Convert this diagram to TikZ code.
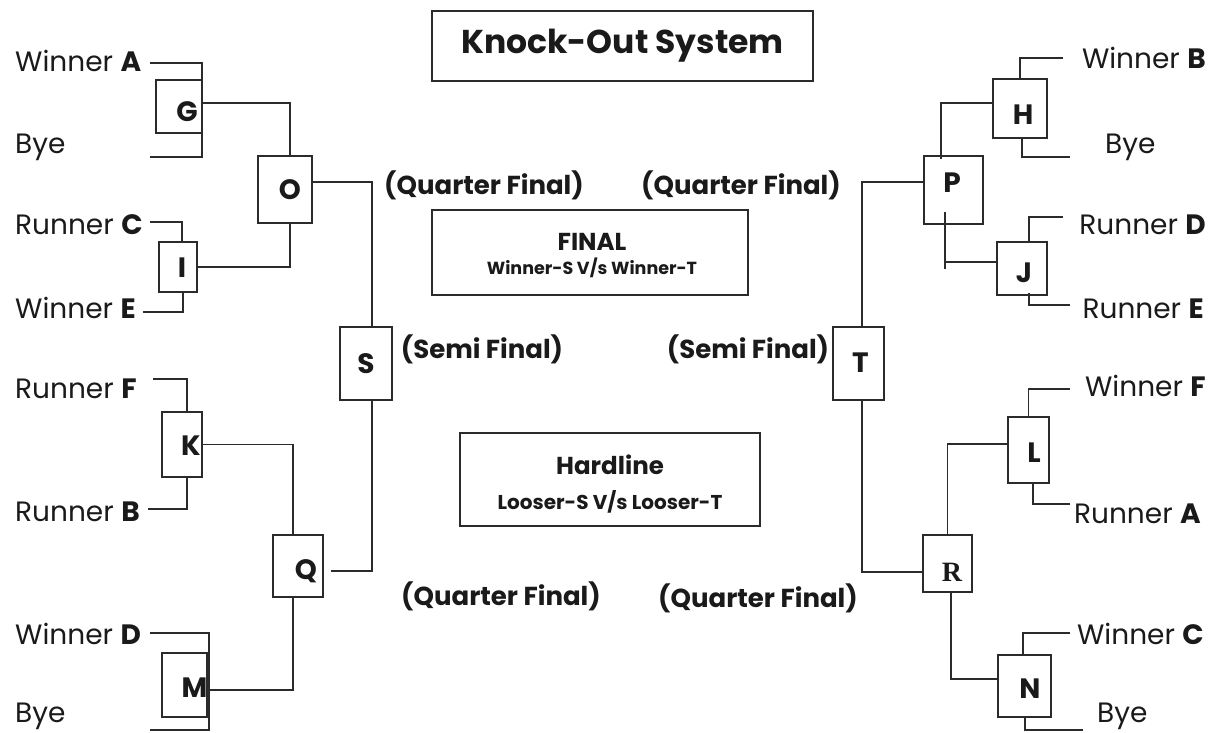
\documentclass[tikz,border=0pt]{standalone}
\usepackage{fontspec}
\setmainfont{Poppins}
\newfontfamily\serifR{Liberation Serif}
\definecolor{linec}{HTML}{2B2B2B}
\definecolor{textc}{HTML}{1A1A1A}
\begin{document}
\begin{tikzpicture}[x=1pt,y=-1pt,
  mbox/.style={draw=linec, line width=1.5pt, inner sep=0pt},
  boxlab/.style={inner sep=0pt, text=textc, font=\fontsize{28}{28}\selectfont\bfseries},
  conn/.style={draw=linec, line width=1.5pt},
  lbl/.style={inner sep=0pt, text=textc, font=\fontsize{28}{28}\selectfont},
  stage/.style={inner sep=0pt, text=textc, font=\fontsize{26}{26}\selectfont\bfseries},
  infobox/.style={draw=linec, line width=1.3pt, inner sep=0pt, align=center, text=textc},
  headtxt/.style={inner sep=0pt, text=textc, font=\fontsize{24.5}{24.5}\selectfont\bfseries},
  subtxt/.style={inner sep=0pt, text=textc, font=\fontsize{19}{19}\selectfont\bfseries}]
\fill[white] (0,0) rectangle (1211,733);
\useasboundingbox (0,0) rectangle (1211,733);

% ---- match boxes ----
\node[mbox, minimum width=46pt, minimum height=53pt, label={[boxlab,xshift=8pt,yshift=-5pt]center:G}] (G) at (179,106.5) {};
\node[mbox, minimum width=54pt, minimum height=67pt, label={[boxlab,xshift=5pt]center:O}] (O) at (285,189.5) {};
\node[mbox, minimum width=38pt, minimum height=50pt, label={[boxlab,xshift=4pt,yshift=-1pt]center:I}] (I) at (178,267) {};
\node[mbox, minimum width=40pt, minimum height=65pt, label={[boxlab,xshift=9pt,yshift=-1pt]center:K}] (K) at (182,444.5) {};
\node[mbox, minimum width=50pt, minimum height=62pt, label={[boxlab,xshift=8pt,yshift=-5pt]center:Q}] (Q) at (298,566) {};
\node[mbox, minimum width=45pt, minimum height=64pt, label={[boxlab,xshift=10pt,yshift=-3pt]center:M}] (M) at (184.5,685) {};
\node[mbox, minimum width=52pt, minimum height=73pt, label={[boxlab]center:S}] (S) at (366,363.5) {};
\node[mbox, minimum width=51pt, minimum height=73pt, label={[boxlab,xshift=2pt,yshift=1pt]center:T}] (T) at (858.5,363.5) {};
\node[mbox, minimum width=54pt, minimum height=59pt, label={[boxlab,xshift=3pt,yshift=-6.5pt]center:H}] (H) at (1020,108.5) {};
\node[mbox, minimum width=59pt, minimum height=68pt, label={[boxlab,xshift=-1.5pt,yshift=7pt]center:P}] (P) at (953.5,190) {};
\node[mbox, minimum width=50pt, minimum height=53pt, label={[boxlab,xshift=2pt,yshift=-4.5pt]center:J}] (J) at (1022,268.5) {};
\node[mbox, minimum width=41pt, minimum height=66pt, label={[boxlab,xshift=5.5pt,yshift=-3pt]center:L}] (L) at (1028.5,450) {};
\node[mbox, minimum width=49pt, minimum height=57pt, label={[boxlab,xshift=4.5pt,yshift=-8.5pt,font=\fontsize{28}{28}\serifR\bfseries]center:R}] (R) at (947.5,563.5) {};
\node[mbox, minimum width=53pt, minimum height=62pt, label={[boxlab,xshift=5.5pt,yshift=-3pt]center:N}] (N) at (1024.5,686) {};

% ---- info boxes ----
\node[infobox, minimum width=381pt, minimum height=70pt, font=\fontsize{33}{33}\selectfont\bfseries] (title) at (622.5,46) {\raisebox{-3pt}{Knock-Out System}};
\node[infobox, minimum width=316pt, minimum height=85pt,
  label={[headtxt,xshift=2pt,yshift=10.5pt]center:FINAL},
  label={[subtxt,font=\fontsize{17.5}{17.5}\selectfont\bfseries,xshift=2pt,yshift=-15.5pt]center:Winner-S V/s Winner-T}] (final) at (590,252.5) {};
\node[infobox, minimum width=300pt, minimum height=93pt,
  label={[headtxt,yshift=14.5pt]center:Hardline},
  label={[subtxt,font=\fontsize{20}{20}\selectfont\bfseries,yshift=-22.5pt]center:Looser-S V/s Looser-T}] (hard) at (610,479.5) {};

% ---- stage labels ----
\node[stage] (qf1) at (484,185) {(Quarter Final)};
\node[stage] (qf2) at (741,185) {(Quarter Final)};
\node[stage] (sf1) at (482,349) {(Semi Final)};
\node[stage] (sf2) at (748,349) {(Semi Final)};
\node[stage] (qf3) at (501,596) {(Quarter Final)};
\node[stage] (qf4) at (758,598) {(Quarter Final)};

% ---- team labels ----
\node[lbl, anchor=base west] (tWA) at (15,72) {Winner \textbf{A}};
\node[lbl, anchor=base west] (tBy1) at (15,154) {Bye};
\node[lbl, anchor=base west] (tRC) at (15,234) {Runner \textbf{C}};
\node[lbl, anchor=base west] (tWE) at (15,318) {Winner \textbf{E}};
\node[lbl, anchor=base west] (tRF) at (15,398) {Runner \textbf{F}};
\node[lbl, anchor=base west] (tRB) at (15,521) {Runner \textbf{B}};
\node[lbl, anchor=base west] (tWD) at (15,644) {Winner \textbf{D}};
\node[lbl, anchor=base west] (tBy2) at (15,722) {Bye};
\node[lbl, anchor=base east] (tWB) at (1206,69) {Winner \textbf{B}};
\node[lbl, anchor=base west] (tBy3) at (1105,154) {Bye};
\node[lbl, anchor=base east] (tRD) at (1206,234) {Runner \textbf{D}};
\node[lbl, anchor=base east] (tRE) at (1204,318) {Runner \textbf{E}};
\node[lbl, anchor=base east] (tWF) at (1206,396) {Winner \textbf{F}};
\node[lbl, anchor=base east] (tRA) at (1201,523) {Runner \textbf{A}};
\node[lbl, anchor=base east] (tWC) at (1204,644) {Winner \textbf{C}};
\node[lbl, anchor=base west] (tBy4) at (1097,722) {Bye};

% ---- free line ends ----
\coordinate (cWA) at (150,63);
\coordinate (cBy1) at (150,157);
\coordinate (cRC) at (150,222);
\coordinate (cWE) at (143,312);
\coordinate (cRF) at (153,379);
\coordinate (cRB) at (148,509);
\coordinate (cWD) at (150,633);
\coordinate (cBy2) at (150,730);
\coordinate (cWB) at (1063,58);
\coordinate (cBy3) at (1070,157);
\coordinate (cRD) at (1063,217);
\coordinate (cRE) at (1070,305);
\coordinate (cWF) at (1070,389);
\coordinate (cRA) at (1070,504);
\coordinate (cWC) at (1070,633);
\coordinate (cBy4) at (1083,730);
\coordinate (cPJ) at (945,269);
\coordinate (cMr) at ([xshift=1pt]M.east);

% ---- left connectors ----
\draw[conn] (cWA) -| ([xshift=-1pt,yshift=-3pt]G.north east);
\draw[conn] (cBy1) -| ([xshift=-1pt]G.south east);
\draw[conn] ([yshift=3.5pt]G.east) -| ([xshift=5pt]O.north);
\draw[conn] (I.east) -| ([xshift=5pt]O.south);
\draw[conn] (cRC) -| ([xshift=4pt]I.north);
\draw[conn] (cWE) -| ([xshift=5pt]I.south);
\draw[conn] ([yshift=7.5pt]O.east) -| ([xshift=6pt]S.north);
\draw[conn] (cRF) -| ([xshift=5pt]K.north);
\draw[conn] (cRB) -| ([xshift=5pt]K.south);
\draw[conn] (K.east) -| ([xshift=-5pt]Q.north);
\draw[conn] ([xshift=7pt,yshift=-5pt]Q.east) -| ([xshift=6pt]S.south);
\draw[conn] ([yshift=-5pt]M.east) -| ([xshift=-5pt]Q.south);
\draw[conn] (cWD) -| (cMr |- cBy2) -- (cBy2);

% ---- right connectors ----
\draw[conn] (cWB) -| (H.north);
\draw[conn] (cBy3) -| ([xshift=2pt]H.south);
\draw[conn] ([yshift=5.5pt]H.west) -| ([xshift=-12.5pt,yshift=-4pt]P.north);
\draw[conn] ([yshift=8pt]P.west) -| ([xshift=3.5pt]T.north);
\draw[conn] ([xshift=-8.5pt,yshift=-22pt]P.center) -- (cPJ);
\draw[conn] ([yshift=6.5pt]J.west) -- ++(-52,0);
\draw[conn] (cRD) -| ([xshift=7pt]J.north);
\draw[conn] (cRE) -| ([xshift=7pt,yshift=3pt]J.south);
\draw[conn] ([xshift=3.5pt]T.south) |- ([yshift=-8.5pt]R.west);
\draw[conn] (cWF) -| (L.north);
\draw[conn] (cRA) -| ([xshift=4.5pt]L.south);
\draw[conn] ([yshift=6pt]L.west) -| (R.north);
\draw[conn] ([xshift=3.5pt]R.south) |- ([yshift=7pt]N.west);
\draw[conn] (cWC) -| ([xshift=-1.5pt]N.north);
\draw[conn] ([xshift=0.5pt]N.south) |- (cBy4);
\end{tikzpicture}
\end{document}
